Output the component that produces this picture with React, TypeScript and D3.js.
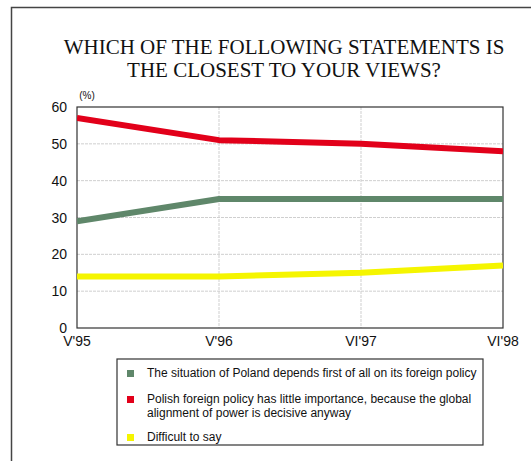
import React from "react";
import * as d3 from "d3";

const categories = ["V'95", "V'96", "VI'97", "VI'98"];
const situationValues = [29, 35, 35, 35];
const globalValues = [57, 51, 50, 48];
const difficultValues = [14, 14, 15, 17];
const yTicks = [0, 10, 20, 30, 40, 50, 60];
const titleLines = ["WHICH OF THE FOLLOWING STATEMENTS IS", "THE CLOSEST TO YOUR VIEWS?"];
const seriesNames = [
  ["The situation of Poland depends first of all on its foreign policy"],
  ["Polish foreign policy has little importance, because the global", "alignment of power is decisive anyway"],
  ["Difficult to say"],
];
const seriesColors = ["#5f876a", "#e2001a", "#f5f500"];

export default function App() {
  const W = 531, H = 461;
  const left = 77, right = 503, top = 107, bottom = 328;
  const x = d3.scalePoint<string>().domain(categories).range([left, right]);
  const y = d3.scaleLinear().domain([0, 60]).range([bottom, top]);
  const line = d3
    .line<number>()
    .x((_, i) => x(categories[i]) as number)
    .y((d) => y(d));
  const series = [situationValues, globalValues, difficultValues];
  const sans = "'Liberation Sans', Arial, sans-serif";
  const legendRows = [373, 399, 437];

  return (
    <svg width={W} height={H} style={{ position: "absolute", left: 0, top: 0 }} xmlns="http://www.w3.org/2000/svg">
      <rect x={0} y={0} width={W} height={H} fill="#fff" />
      <rect x={11.5} y={7.5} width={W + 10} height={H + 10} fill="none" stroke="#444" strokeWidth={1.5} />
      {titleLines.map((t, i) => (
        <text key={i} x={284} y={54 + i * 23} textAnchor="middle" fontFamily="'Liberation Serif', 'Times New Roman', serif" fontSize={21} fill="#111">
          {t}
        </text>
      ))}
      {yTicks.slice(1, -1).map((t) => (
        <line key={"gy" + t} x1={left} x2={right} y1={y(t)} y2={y(t)} stroke="#cfcfcf" strokeWidth={1} strokeDasharray="3,1" />
      ))}
      {categories.slice(1, -1).map((c) => (
        <line key={"gx" + c} x1={x(c)} x2={x(c)} y1={top} y2={bottom} stroke="#cfcfcf" strokeWidth={1} strokeDasharray="3,1" />
      ))}
      <rect x={left} y={top} width={right - left} height={bottom - top} fill="none" stroke="#333" strokeWidth={1.2} />
      {yTicks.map((t) => (
        <text key={"yt" + t} x={67} y={y(t) + 5} textAnchor="end" fontFamily={sans} fontSize={14} fill="#111">
          {t}
        </text>
      ))}
      <text x={87} y={99} textAnchor="middle" fontFamily={sans} fontSize={10} fill="#111">(%)</text>
      {categories.map((c) => (
        <text key={"xt" + c} x={x(c)} y={346} textAnchor="middle" fontFamily={sans} fontSize={14} fill="#111">
          {c}
        </text>
      ))}
      <clipPath id="plotclip">
        <rect x={left} y={top} width={right - left} height={bottom - top} />
      </clipPath>
      <g clipPath="url(#plotclip)">
        {series.map((s, i) => (
          <path key={"s" + i} d={line(s) as string} fill="none" stroke={seriesColors[i]} strokeWidth={6} strokeLinejoin="round" />
        ))}
      </g>
      <rect x={117} y={359} width={366} height={86} fill="#fff" stroke="#333" strokeWidth={1.2} />
      {seriesNames.map((lines, i) => (
        <g key={"lg" + i}>
          <rect x={127} y={legendRows[i] - 3} width={7} height={7} fill={seriesColors[i]} />
          {lines.map((l, j) => (
            <text key={j} x={147} y={legendRows[i] + 4 + j * 14} fontFamily={sans} fontSize={12} fill="#111">
              {l}
            </text>
          ))}
        </g>
      ))}
    </svg>
  );
}
